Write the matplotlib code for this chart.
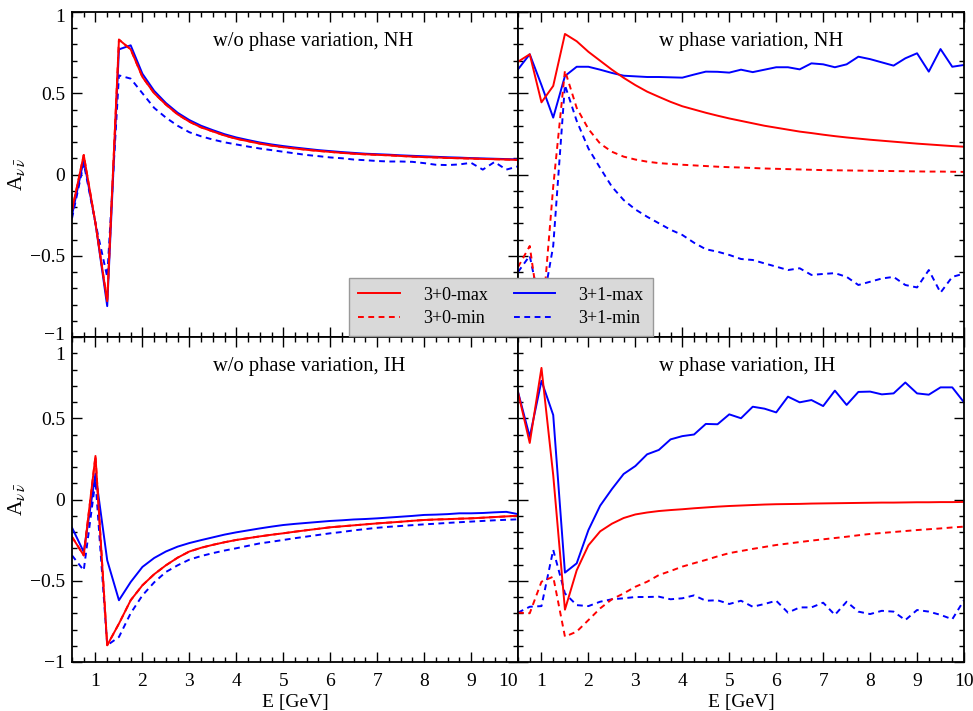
import matplotlib
matplotlib.use('Agg')
import matplotlib.pyplot as plt
from matplotlib.ticker import MultipleLocator
from matplotlib.transforms import ScaledTranslation

plt.rcParams['font.family'] = ['Liberation Serif', 'DejaVu Serif']
plt.rcParams['mathtext.fontset'] = 'stix'

# energy grid [GeV]
E = [0.5, 0.75, 1.0, 1.25, 1.5, 1.75, 2.0, 2.25, 2.5, 2.75, 3.0, 3.25, 3.5,
     3.75, 4.0, 4.25, 4.5, 4.75, 5.0, 5.25, 5.5, 5.75, 6.0, 6.25, 6.5, 6.75,
     7.0, 7.25, 7.5, 7.75, 8.0, 8.25, 8.5, 8.75, 9.0, 9.25, 9.5, 9.75, 10.0]

# w/o phase variation, NH
nh_wo_30_max = [-0.22, 0.12, -0.30, -0.78, 0.83, 0.77, 0.60, 0.50, 0.43, 0.37,
                0.325, 0.29, 0.265, 0.24, 0.22, 0.205, 0.19, 0.178, 0.168, 0.16,
                0.152, 0.145, 0.139, 0.133, 0.128, 0.124, 0.121, 0.118, 0.114, 0.11,
                0.107, 0.105, 0.102, 0.10, 0.098, 0.096, 0.094, 0.092, 0.09]
nh_wo_30_min = nh_wo_30_max
nh_wo_31_max = [-0.25, 0.09, -0.30, -0.81, 0.77, 0.795, 0.62, 0.515, 0.44, 0.38,
                0.335, 0.30, 0.273, 0.248, 0.228, 0.212, 0.197, 0.185, 0.175, 0.166,
                0.158, 0.15, 0.144, 0.138, 0.133, 0.128, 0.125, 0.122, 0.118, 0.115,
                0.112, 0.109, 0.106, 0.104, 0.101, 0.099, 0.097, 0.095, 0.093]
nh_wo_31_min = [-0.27, 0.07, -0.30, -0.63, 0.61, 0.59, 0.50, 0.41, 0.35, 0.30,
                0.26, 0.235, 0.215, 0.198, 0.185, 0.172, 0.16, 0.15, 0.14, 0.13,
                0.12, 0.113, 0.105, 0.10, 0.092, 0.088, 0.083, 0.08, 0.08, 0.078,
                0.07, 0.06, 0.058, 0.062, 0.072, 0.03, 0.077, 0.03, 0.05]

# w phase variation, NH
nh_w_30_max = [0.694, 0.74, 0.444, 0.545, 0.865, 0.82, 0.755, 0.70, 0.645, 0.595,
               0.55, 0.51, 0.478, 0.447, 0.42, 0.40, 0.38, 0.362, 0.345, 0.33,
               0.315, 0.30, 0.288, 0.276, 0.264, 0.255, 0.245, 0.236, 0.228, 0.221,
               0.214, 0.208, 0.202, 0.196, 0.19, 0.185, 0.18, 0.175, 0.171]
nh_w_30_min = [-0.57, -0.44, -0.95, -0.075, 0.64, 0.41, 0.28, 0.19, 0.14, 0.11,
               0.092, 0.079, 0.07, 0.065, 0.06, 0.056, 0.052, 0.048, 0.045, 0.043,
               0.04, 0.037, 0.035, 0.033, 0.031, 0.029, 0.027, 0.026, 0.025, 0.024,
               0.023, 0.022, 0.021, 0.02, 0.019, 0.018, 0.018, 0.017, 0.016]
nh_w_31_max = [0.647, 0.74, 0.55, 0.35, 0.606, 0.663, 0.663, 0.645, 0.625, 0.608,
               0.604, 0.6, 0.6, 0.598, 0.596, 0.615, 0.633, 0.632, 0.627, 0.645,
               0.63, 0.645, 0.66, 0.66, 0.647, 0.684, 0.678, 0.66, 0.678, 0.725,
               0.71, 0.69, 0.67, 0.715, 0.746, 0.633, 0.772, 0.663, 0.674]
nh_w_31_min = [-0.60, -0.50, -0.85, -0.44, 0.55, 0.33, 0.16, 0.04, -0.075, -0.157,
               -0.215, -0.26, -0.30, -0.34, -0.372, -0.42, -0.46, -0.475, -0.495, -0.52,
               -0.526, -0.547, -0.567, -0.588, -0.577, -0.618, -0.612, -0.607, -0.63, -0.68,
               -0.66, -0.64, -0.63, -0.68, -0.695, -0.588, -0.727, -0.63, -0.61]

# w/o phase variation, IH
ih_wo_30_max = [-0.23, -0.344, 0.268, -0.897, -0.764, -0.62, -0.528, -0.46, -0.405, -0.358,
                -0.32, -0.297, -0.279, -0.263, -0.249, -0.238, -0.227, -0.217, -0.208, -0.198,
                -0.189, -0.18, -0.171, -0.165, -0.159, -0.153, -0.147, -0.142, -0.137, -0.131,
                -0.126, -0.123, -0.121, -0.118, -0.116, -0.112, -0.108, -0.104, -0.10]
ih_wo_30_min = ih_wo_30_max
ih_wo_31_max = [-0.173, -0.323, 0.159, -0.374, -0.62, -0.508, -0.415, -0.36, -0.32, -0.29,
                -0.268, -0.25, -0.233, -0.216, -0.202, -0.19, -0.178, -0.167, -0.157, -0.15,
                -0.144, -0.138, -0.132, -0.128, -0.123, -0.12, -0.116, -0.111, -0.106, -0.101,
                -0.095, -0.093, -0.09, -0.085, -0.085, -0.083, -0.079, -0.076, -0.09]
ih_wo_31_min = [-0.344, -0.436, 0.118, -0.897, -0.846, -0.70, -0.59, -0.51, -0.446, -0.405,
                -0.37, -0.348, -0.33, -0.314, -0.30, -0.285, -0.27, -0.26, -0.249, -0.238,
                -0.228, -0.218, -0.208, -0.2, -0.19, -0.182, -0.174, -0.168, -0.163, -0.158,
                -0.153, -0.149, -0.144, -0.14, -0.136, -0.132, -0.128, -0.125, -0.122]

# w phase variation, IH
ih_w_30_max = [0.66, 0.348, 0.81, 0.15, -0.678, -0.436, -0.282, -0.196, -0.149, -0.114,
               -0.092, -0.08, -0.071, -0.065, -0.06, -0.054, -0.049, -0.044, -0.04, -0.037,
               -0.034, -0.031, -0.029, -0.028, -0.027, -0.025, -0.024, -0.023, -0.022, -0.021,
               -0.02, -0.019, -0.019, -0.018, -0.017, -0.017, -0.016, -0.016, -0.015]
ih_w_30_min = [-0.696, -0.70, -0.506, -0.475, -0.844, -0.813, -0.742, -0.67, -0.614, -0.578,
               -0.537, -0.506, -0.465, -0.44, -0.413, -0.392, -0.372, -0.35, -0.33, -0.317,
               -0.304, -0.292, -0.28, -0.271, -0.262, -0.253, -0.245, -0.237, -0.229, -0.22,
               -0.212, -0.206, -0.2, -0.194, -0.188, -0.183, -0.178, -0.172, -0.167]
ih_w_31_max = [0.663, 0.386, 0.73, 0.52, -0.45, -0.393, -0.188, -0.038, 0.064, 0.157,
               0.206, 0.278, 0.305, 0.37, 0.39, 0.40, 0.465, 0.463, 0.524, 0.50,
               0.571, 0.559, 0.536, 0.633, 0.598, 0.612, 0.575, 0.67, 0.582, 0.662,
               0.664, 0.647, 0.653, 0.72, 0.653, 0.645, 0.69, 0.69, 0.598]
ih_w_31_min = [-0.696, -0.66, -0.656, -0.31, -0.578, -0.65, -0.656, -0.629, -0.614, -0.608,
               -0.6, -0.6, -0.598, -0.614, -0.608, -0.59, -0.623, -0.62, -0.643, -0.623,
               -0.66, -0.643, -0.623, -0.696, -0.664, -0.664, -0.635, -0.71, -0.629, -0.69,
               -0.705, -0.685, -0.69, -0.742, -0.68, -0.69, -0.71, -0.737, -0.62]

titles = ['w/o phase variation, NH', 'w phase variation, NH',
          'w/o phase variation, IH', 'w phase variation, IH']
series = [
    (nh_wo_30_max, nh_wo_30_min, nh_wo_31_max, nh_wo_31_min),
    (nh_w_30_max, nh_w_30_min, nh_w_31_max, nh_w_31_min),
    (ih_wo_30_max, ih_wo_30_min, ih_wo_31_max, ih_wo_31_min),
    (ih_w_30_max, ih_w_30_min, ih_w_31_max, ih_w_31_min),
]
labels = ['3+0-max', '3+0-min', '3+1-max', '3+1-min']
xticks = [1, 2, 3, 4, 5, 6, 7, 8, 9, 10]
yticks = [-1, -0.5, 0, 0.5, 1]
ytick_labels = ['\u22121', '\u22120.5', '0', '0.5', '1']

RED = '#ff0000'
BLUE = '#0000ff'
FS = 14
W, H = 973, 711

fig = plt.figure(figsize=(W / 100, H / 100), dpi=100)
boxes = [(72, 12), (518, 12), (72, 337), (518, 337)]
axes = []
for i, (px, py) in enumerate(boxes):
    ax = fig.add_axes([px / W, 1 - (py + 325) / H, 446 / W, 325 / H])
    axes.append(ax)

dash = (0, (3, 2.3))
handles = None
for i, ax in enumerate(axes):
    r_max, r_min, b_max, b_min = series[i]
    l_bmin, = ax.plot(E, b_min, color=BLUE, lw=1.4, ls=dash)
    l_bmax, = ax.plot(E, b_max, color=BLUE, lw=1.4)
    l_rmin, = ax.plot(E, r_min, color=RED, lw=1.4, ls=dash)
    l_rmax, = ax.plot(E, r_max, color=RED, lw=1.4)
    if i == 0:
        handles = [l_rmax, l_rmin, l_bmax, l_bmin]

    ax.set_xlim(0.5, 10)
    ax.set_ylim(-1, 1)
    ax.xaxis.set_minor_locator(MultipleLocator(0.25))
    ax.yaxis.set_minor_locator(MultipleLocator(0.1))
    ax.tick_params(which='both', direction='in', top=True, right=True,
                   labelsize=FS, width=1.0, pad=5)
    ax.tick_params(axis='x', which='both', pad=8)
    ax.tick_params(which='major', length=7)
    ax.tick_params(which='minor', length=3.5)
    for sp in ax.spines.values():
        sp.set_linewidth(1.3)

    ax.set_xticks(xticks, [str(t) for t in xticks])
    ax.set_yticks(yticks, ytick_labels)
    bottom = i >= 2
    left = i % 2 == 0
    ax.tick_params(labelbottom=bottom, labelleft=left)

    if left:
        ax.set_ylabel(r'A$_{\nu\,\bar{\nu}}$', fontsize=15.5)
        ax.yaxis.set_label_coords(-0.1, 0.5)
        for lbl in ax.get_yticklabels():
            t = lbl.get_text()
            if t == '1':
                dy = -16 if bottom else -4
                lbl.set_transform(lbl.get_transform() +
                                  ScaledTranslation(0, dy / 100, fig.dpi_scale_trans))
            elif t == '\u22121' and not bottom:
                lbl.set_transform(lbl.get_transform() +
                                  ScaledTranslation(0, 3 / 100, fig.dpi_scale_trans))
    if bottom:
        ax.set_xlabel('E [GeV]', fontsize=FS)
        ax.xaxis.set_label_coords(0.5, -0.1)
        ax.xaxis.label.set_va('top')
        if left:
            for lbl in ax.get_xticklabels():
                if lbl.get_text() == '10':
                    lbl.set_ha('right')

    ax.text(0.317, 0.908, titles[i], transform=ax.transAxes, fontsize=14.8,
            ha='left', va='center')

leg = fig.legend(handles, labels, loc='lower center',
                 bbox_to_anchor=(501 / W, 1 - 336 / H), ncol=2, fontsize=13,
                 fancybox=False, framealpha=1, facecolor='#d9d9d9',
                 edgecolor='#999999', handlelength=2.3, handletextpad=1.3,
                 columnspacing=1.4, borderpad=0.5, labelspacing=0.35,
                 borderaxespad=0)
leg.get_frame().set_linewidth(1.0)

fig.savefig('out.png', dpi=100)
